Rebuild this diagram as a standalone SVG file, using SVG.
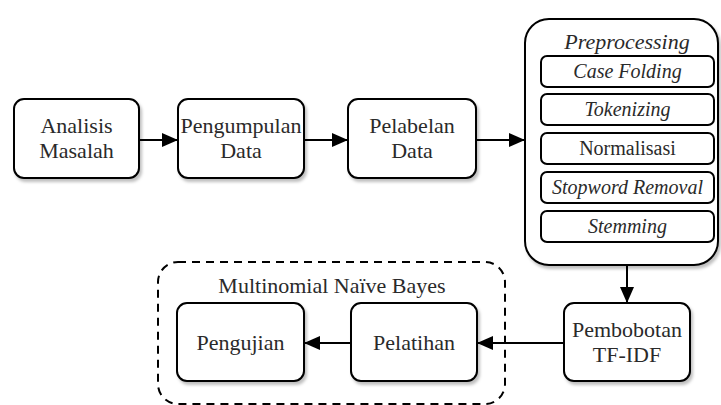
<svg xmlns="http://www.w3.org/2000/svg" width="721" height="405" viewBox="0 0 721 405">
<style>
.box{fill:#fff;stroke:#000;stroke-width:2;filter:url(#sh)}
.ibox{fill:#fff;stroke:#000;stroke-width:2}
.t{font-size:22px;fill:#2a2a2a;text-anchor:middle}
.s{font-size:20px}
.i{font-style:italic}
.c{stroke:#000;stroke-width:2;fill:none;marker-end:url(#ah)}
</style>
<defs>
<filter id="sh" x="-10%" y="-10%" width="130%" height="130%">
<feDropShadow dx="2" dy="3" stdDeviation="1.5" flood-color="#000" flood-opacity="0.25"/>
</filter>
<marker id="ah" markerWidth="16" markerHeight="14" refX="15" refY="7" orient="auto" markerUnits="userSpaceOnUse">
<path d="M0,0 L16,7 L0,14 Z" fill="#000"/>
</marker>
</defs>
<g id="connectors">
<line class="c" x1="139" y1="140" x2="177" y2="140"/>
<line class="c" x1="304" y1="140" x2="347" y2="140"/>
<line class="c" x1="476" y1="140" x2="524" y2="140"/>
<line class="c" x1="627" y1="265" x2="627" y2="302"/>
<line class="c" x1="564" y1="343" x2="478" y2="343"/>
<line class="c" x1="351" y1="343" x2="305" y2="343"/>
</g>
<g font-family="Liberation Serif">
<g id="mnb-group">
<rect x="158" y="262" width="347" height="142" rx="20" fill="none" stroke="#000" stroke-width="2" stroke-dasharray="8,6"/>
<text class="t" x="332" y="293">Multinomial Naïve Bayes</text>
</g>
<g id="analisis">
<rect class="box" x="14" y="99" width="125" height="79" rx="10"/>
<text class="t" x="76.5" y="133">Analisis</text>
<text class="t" x="76.5" y="158">Masalah</text>
</g>
<g id="pengumpulan">
<rect class="box" x="178" y="99" width="126" height="79" rx="10"/>
<text class="t" x="241" y="133">Pengumpulan</text>
<text class="t" x="241" y="158">Data</text>
</g>
<g id="pelabelan">
<rect class="box" x="348" y="99" width="128" height="79" rx="10"/>
<text class="t" x="412" y="133">Pelabelan</text>
<text class="t" x="412" y="158">Data</text>
</g>
<g id="preprocessing">
<rect class="box" x="525" y="19" width="193" height="246" rx="24"/>
<text class="t i" x="627" y="49" font-size="21">Preprocessing</text>
</g>
<g id="case-folding">
<rect class="ibox" x="541" y="56" width="173" height="31" rx="6"/>
<text class="t s i" x="627.5" y="78">Case Folding</text>
</g>
<g id="tokenizing">
<rect class="ibox" x="541" y="94" width="173" height="31" rx="6"/>
<text class="t s i" x="627.5" y="116">Tokenizing</text>
</g>
<g id="normalisasi">
<rect class="ibox" x="541" y="133" width="173" height="31" rx="6"/>
<text class="t s" x="627.5" y="155">Normalisasi</text>
</g>
<g id="stopword">
<rect class="ibox" x="541" y="172" width="173" height="31" rx="6"/>
<text class="t s i" x="627.5" y="194">Stopword Removal</text>
</g>
<g id="stemming">
<rect class="ibox" x="541" y="211" width="173" height="31" rx="6"/>
<text class="t s i" x="627.5" y="233">Stemming</text>
</g>
<g id="pembobotan">
<rect class="box" x="564" y="303" width="126" height="78" rx="10"/>
<text class="t" x="627" y="337">Pembobotan</text>
<text class="t" x="627" y="362">TF-IDF</text>
</g>
<g id="pelatihan">
<rect class="box" x="351" y="303" width="126" height="78" rx="10"/>
<text class="t" x="414" y="350">Pelatihan</text>
</g>
<g id="pengujian">
<rect class="box" x="177" y="303" width="127" height="78" rx="10"/>
<text class="t" x="240.5" y="350">Pengujian</text>
</g>
</g>
</svg>
